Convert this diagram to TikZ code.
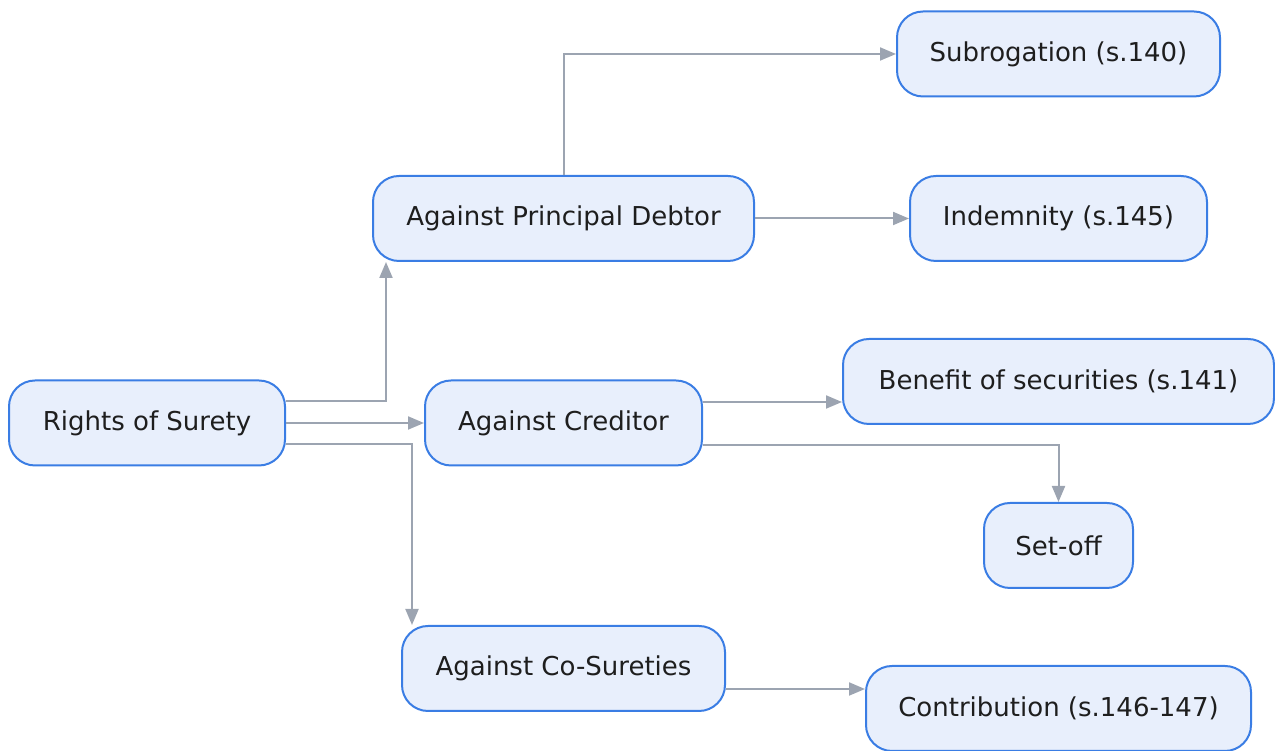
\documentclass[tikz,border=0pt]{standalone}
\usepackage{fontspec}
\setmainfont{DejaVu Sans}
\usetikzlibrary{arrows.meta}
\definecolor{boxfill}{HTML}{E8EFFC}
\definecolor{boxline}{HTML}{3A7DE4}
\definecolor{edgecol}{HTML}{9CA4B1}
\definecolor{textcol}{HTML}{1E1E1E}
\begin{document}
\begin{tikzpicture}[x=1pt,y=1pt,
  box/.style={draw=boxline, fill=boxfill, line width=2pt, rounded corners=26pt,
    minimum height=85pt, inner sep=0pt, text=textcol,
    font=\fontsize{26}{31}\selectfont},
  link/.style={draw=edgecol, line width=2pt, -{Triangle[length=16pt,width=13pt]}}]
\useasboundingbox (0,0) rectangle (1275,751);

% nodes
\node[box, minimum width=276pt] (rs)  at (147,328)    {Rights of Surety};
\node[box, minimum width=381pt] (pd)  at (563.5,532.5) {Against Principal Debtor};
\node[box, minimum width=277pt] (cr)  at (563.5,328)  {Against Creditor};
\node[box, minimum width=323pt] (cs)  at (563.5,82.5) {Against Co-Sureties};
\node[box, minimum width=323pt] (sub) at (1058.5,697) {Subrogation (s.140)};
\node[box, minimum width=297pt] (ind) at (1058.5,532.5) {Indemnity (s.145)};
\node[box, minimum width=431pt] (ben) at (1058.5,369.5) {Benefit of securities (s.141)};
\node[box, minimum width=149pt] (so)  at (1058.5,205.5) {Set-off};
\node[box, minimum width=385pt] (con) at (1058.5,42.5) {Contribution (s.146-147)};

% connector start points
\coordinate (rs1) at ([yshift=22pt]rs.east);
\coordinate (rs3) at ([yshift=-21pt]rs.east);
\coordinate (pd1) at ([xshift=14pt]pd.south west);
\coordinate (cs1) at ([xshift=11pt]cs.north west);
\coordinate (cr1) at ([yshift=21pt]cr.east);
\coordinate (cr2) at ([yshift=-22pt]cr.east);
\coordinate (cs2) at ([yshift=-20.5pt]cs.east);

% connectors
\draw[link] (rs1) -| (pd1);
\draw[link] (rs.east) -- (cr.west);
\draw[link] (rs3) -| (cs1);
\draw[link] (pd.north) |- (sub.west);
\draw[link] (pd.east) -- (pd.east -| ind.west);
\draw[link] (cr1) -- (cr1 -| ben.west);
\draw[link] (cr2) -| (so.north);
\draw[link] (cs2) -- (cs2 -| con.west);
\end{tikzpicture}
\end{document}
